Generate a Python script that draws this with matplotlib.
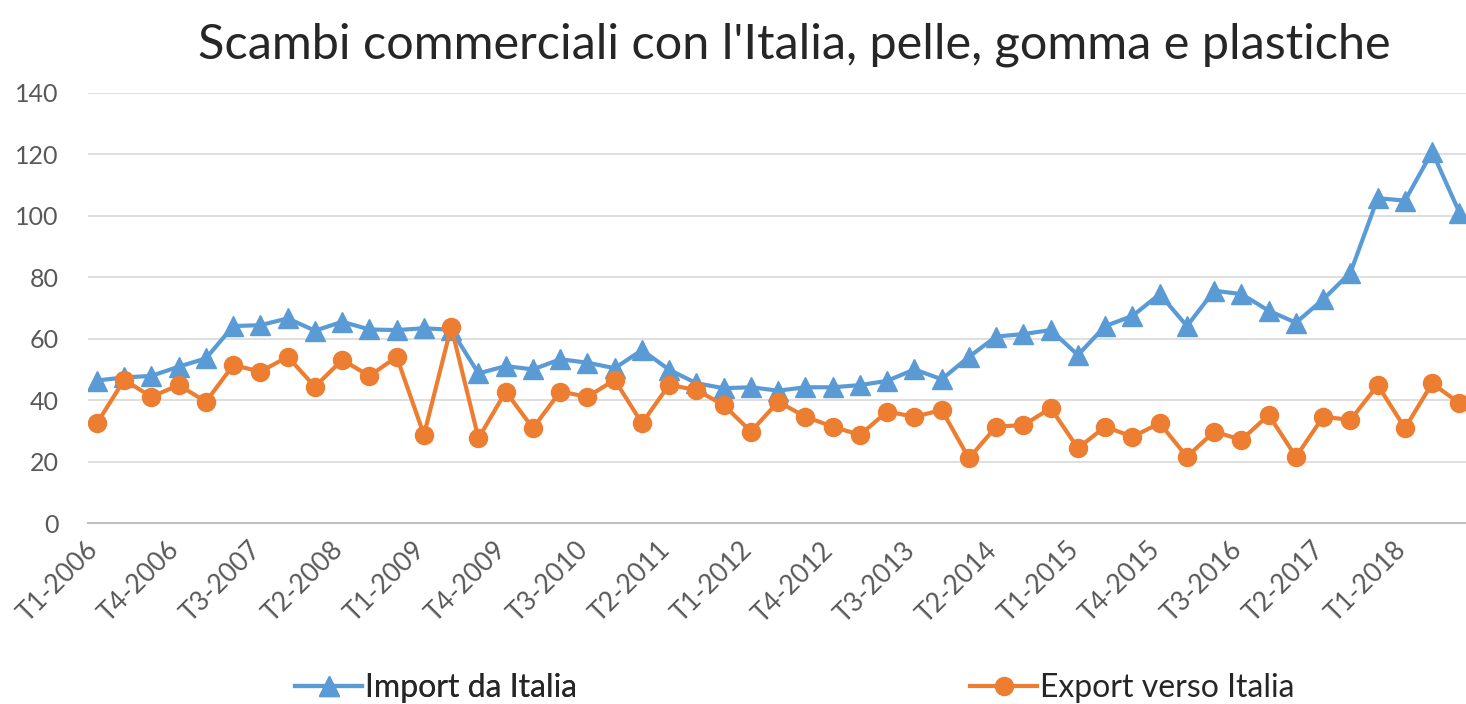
import numpy as np
import matplotlib
matplotlib.use("Agg")
import matplotlib.pyplot as plt
import matplotlib.transforms as mtransforms

plt.rcParams['font.family'] = ['Lato', 'DejaVu Sans']

# trimestri T1-2006 ... T3-2018
anni = range(2006, 2019)
trimestri = [f"T{q}-{a}" for a in anni for q in range(1, 5)][:51]

import_italia = [46.5, 47.5, 48, 51, 53.7, 64.2, 64.5, 66.7, 62.7, 65.6,
                 63.1, 62.9, 63.5, 63, 48.8, 51.2, 50.1, 53.4, 52.3, 50.5,
                 56.4, 50, 45.6, 44, 44.3, 43.2, 44.3, 44.3, 45, 46.4,
                 50.1, 46.9, 54.2, 60.8, 61.6, 62.9, 54.8, 64.2, 67.5, 74.6,
                 64.2, 75.7, 74.6, 69.2, 65.3, 72.9, 81.6, 105.8, 105, 120.9,
                 101.1]
export_italia = [32.6, 46.7, 41.2, 45, 39.6, 51.5, 49.4, 54.2, 44.5, 53.2,
                 48, 54.2, 28.8, 64, 27.7, 42.9, 31, 42.9, 41.2, 46.7,
                 32.6, 45.1, 43.4, 38.5, 29.9, 39.6, 34.7, 31.5, 28.8, 36.4,
                 34.7, 36.9, 21.2, 31.5, 32, 37.5, 24.5, 31.5, 28.2, 32.6,
                 21.7, 29.9, 27.2, 35.3, 21.7, 34.7, 33.7, 45, 31, 45.6,
                 39.1]

blu = '#5B9BD5'
arancio = '#ED7D31'
grigio = '#595959'

fig = plt.figure(figsize=(14.66, 7.04), dpi=100)
ax = fig.add_axes([0.060, 0.2564, 0.94, 0.6115])

x = np.arange(len(trimestri))
l1, = ax.plot(x, import_italia, color=blu, lw=3, marker='^', ms=14,
              label='Import da Italia', zorder=3)
l2, = ax.plot(x, export_italia, color=arancio, lw=3, marker='o', ms=13,
              label='Export verso Italia', zorder=4)

ax.set_ylim(0, 140)
ax.set_yticks(range(0, 141, 20))
ax.set_xlim(-0.33, 50.24)
ax.set_xticks(x[::3])
ax.set_xticklabels(trimestri[::3], rotation=45, ha='right', va='top',
                   rotation_mode='anchor')
ax.tick_params(axis='both', length=0, labelsize=18, colors=grigio)
ax.tick_params(axis='x', labelsize=19)
ax.tick_params(axis='y', pad=21)
ax.tick_params(axis='x', pad=10)

# sposta le etichette dei trimestri un po' a sinistra
sposta = mtransforms.ScaledTranslation(-12 / 100, 0, fig.dpi_scale_trans)
for lab in ax.get_xticklabels():
    lab.set_transform(lab.get_transform() + sposta)

ax.grid(axis='y', color='#D9D9D9', lw=1.2)
ax.set_axisbelow(True)
for s in ['top', 'right', 'left']:
    ax.spines[s].set_visible(False)
ax.spines['bottom'].set_color('#BFBFBF')
ax.spines['bottom'].set_linewidth(1.5)

fig.text(0.542, 0.936, "Scambi commerciali con l'Italia, pelle, gomma e plastiche",
         ha='center', va='center', fontsize=35, color='#262626')

leg1 = fig.legend(handles=[l1], loc='center left', bbox_to_anchor=(295 / 1466, 0.023),
                  frameon=False, fontsize=23, handlelength=2.1, handletextpad=0.1,
                  borderpad=0, borderaxespad=0, labelcolor='#262626')
fig.add_artist(leg1)
fig.legend(handles=[l2], loc='center left', bbox_to_anchor=(970 / 1466, 0.023),
           frameon=False, fontsize=23, handlelength=2.1, handletextpad=0.1,
           borderpad=0, borderaxespad=0, labelcolor='#262626')

fig.savefig('out.png', dpi=100)
